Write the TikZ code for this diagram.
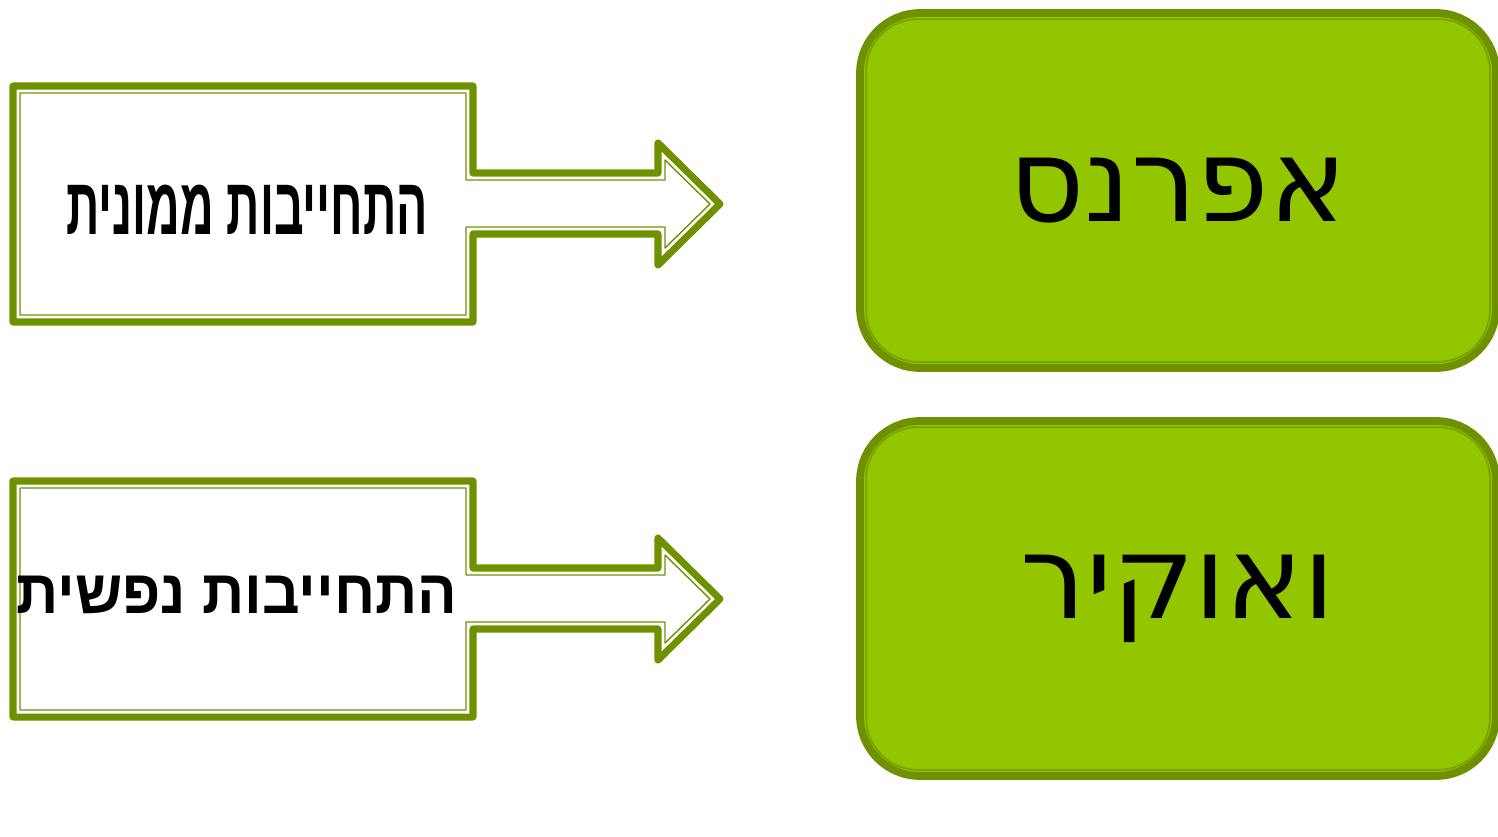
\documentclass[tikz,border=0pt]{standalone}
\usepackage{fontspec}
\setmainfont{Liberation Sans}
\newfontfamily\hebbold[Script=Hebrew]{Liberation Sans}
\newfontfamily\hebhand[Script=Hebrew]{DejaVu Sans}
\TeXXeTstate=1
\definecolor{frame}{RGB}{111,145,0}
\definecolor{leaf}{RGB}{148,198,0}
\definecolor{rimline}{RGB}{120,162,0}

\begin{document}
\begin{tikzpicture}[x=0.2mm, y=-0.2mm,
  rim/.style={draw=frame, line width=4pt, line join=round},
  thinrim/.style={draw=frame, line width=0.8pt, line join=round},
  tag/.style={font=\hebbold\bfseries\fontsize{44}{44}\selectfont},
  leafbox/.style={draw=frame, line width=4.4pt, fill=leaf, rounded corners=12mm,
                  minimum width=127.2mm, minimum height=71mm},
  word/.style={font=\hebhand\fontsize{66}{66}\selectfont}]
\useasboundingbox (0,0) rectangle (1498,836);

% callout arrows
\def\dy{0}
\draw[rim] (13, \dy + 86) -- (473, \dy + 86) -- (473, \dy + 173) -- (658, \dy + 173)
  -- (658, \dy + 143) -- (720, \dy + 204) -- (658, \dy + 265) -- (658, \dy + 234)
  -- (473, \dy + 234) -- (473, \dy + 322) -- (13, \dy + 322) -- cycle;
\draw[thinrim] (20, \dy + 93) -- (466, \dy + 93) -- (466, \dy + 180) -- (665, \dy + 180)
  -- (665, \dy + 160) -- (710, \dy + 204) -- (665, \dy + 248) -- (665, \dy + 227)
  -- (466, \dy + 227) -- (466, \dy + 315) -- (20, \dy + 315) -- cycle;
\node[tag] (money) at (247, \dy + 210) {\scalebox{0.6}[1.05]{\beginR התחייבות ממונית\endR}};

\def\dy{395}
\draw[rim] (13, \dy + 86) -- (473, \dy + 86) -- (473, \dy + 173) -- (658, \dy + 173)
  -- (658, \dy + 143) -- (720, \dy + 204) -- (658, \dy + 265) -- (658, \dy + 234)
  -- (473, \dy + 234) -- (473, \dy + 322) -- (13, \dy + 322) -- cycle;
\draw[thinrim] (20, \dy + 93) -- (466, \dy + 93) -- (466, \dy + 180) -- (665, \dy + 180)
  -- (665, \dy + 160) -- (710, \dy + 204) -- (665, \dy + 248) -- (665, \dy + 227)
  -- (466, \dy + 227) -- (466, \dy + 315) -- (20, \dy + 315) -- cycle;
\node[tag] (soul) at (237, \dy + 200) {\scalebox{0.76}[0.8]{\beginR התחייבות נפשית\endR}};

% green boxes
\node[leafbox, word] (afr) at (1178, 190.5) {\beginR אפרנס\endR};
\node[leafbox, word] (okir) at (1178, 598.5) {\beginR ואוקיר\endR};
\draw[rimline, line width=1pt, rounded corners=10.4mm]
  ([xshift=2mm, yshift=-2mm]afr.north west) rectangle ([xshift=-2mm, yshift=2mm]afr.south east);
\draw[rimline, line width=1pt, rounded corners=10.4mm]
  ([xshift=2mm, yshift=-2mm]okir.north west) rectangle ([xshift=-2mm, yshift=2mm]okir.south east);
\end{tikzpicture}
\end{document}
